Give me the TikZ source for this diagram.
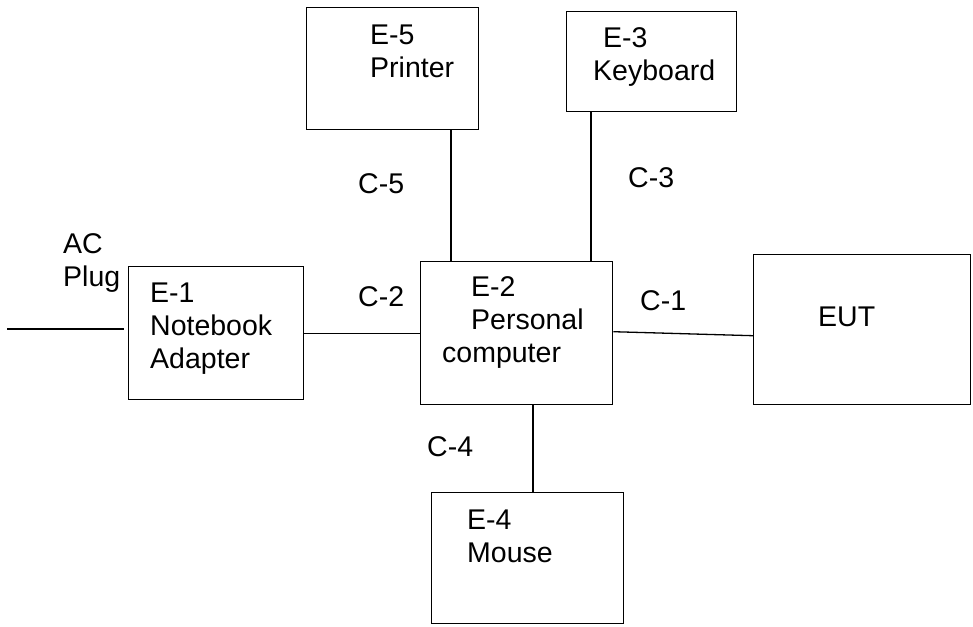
\documentclass[tikz,border=0pt]{standalone}
\usepackage{fontspec}
\setmainfont{Liberation Sans}
\begin{document}
\begin{tikzpicture}[x=1pt,y=-1pt,
  box/.style={draw,line width=1.4pt,inner sep=0pt,anchor=north west},
  lbl/.style={inner sep=0pt,anchor=north west,align=left,font=\fontsize{28.5}{33}\selectfont},
  wire/.style={line width=1.3pt}]
\useasboundingbox[fill=white] (0,0) rectangle (973,626);
% boxes
\node[box,minimum width=172pt,minimum height=122pt] (e5) at (306,7) {};
\node[box,minimum width=170pt,minimum height=100pt] (e3) at (566,11) {};
\node[box,minimum width=175pt,minimum height=133pt] (e1) at (128,266) {};
\node[box,minimum width=192pt,minimum height=143pt] (e2) at (420,261) {};
\node[box,minimum width=217pt,minimum height=150pt] (eut) at (753,254) {};
\node[box,minimum width=192pt,minimum height=131pt] (e4) at (431,492) {};
% texts
\node[lbl] (tac) at (63,233.5) {AC\\Plug};
\node[lbl] (te1) at (150,282.5) {E-1\\Notebook\\Adapter};
\node[lbl] (te5) at (370,24.5) {E-5\\Printer};
\node[lbl] (te3) at (593,27.5) {\hspace*{10pt}E-3\\Keyboard};
\node[lbl] (te2) at (442,276.5) {\hspace*{29pt}E-2\\\hspace*{29pt}Personal\\computer};
\node[lbl] (teut) at (818,306.5) {EUT};
\node[lbl] (te4) at (467,509.5) {E-4\\Mouse};
\node[lbl] (c5) at (358,173.5) {C-5};
\node[lbl] (c3) at (628,167.5) {C-3};
\node[lbl] (c2) at (358,286.5) {C-2};
\node[lbl] (c1) at (640,290.5) {C-1};
\node[lbl] (c4) at (427,436.5) {C-4};
% connectors
\coordinate (acl) at (7,329);
\coordinate (acr) at (124,329);
\draw[wire] (acl) -- (acr);
\draw[wire] (e1.east) -- (e1.east -| e2.west);
\draw[wire] ([xshift=145pt]e5.south west) -- ([xshift=145pt]e5.south west |- e2.north);
\draw[wire] ([xshift=25pt]e3.south west) -- ([xshift=25pt]e3.south west |- e2.north);
\draw[wire] ([yshift=1.5pt]e2.east) -- ([yshift=-6pt]eut.west);
\draw[wire] ([xshift=113pt]e2.south west) -- ([xshift=113pt]e2.south west |- e4.north);
\end{tikzpicture}
\end{document}
